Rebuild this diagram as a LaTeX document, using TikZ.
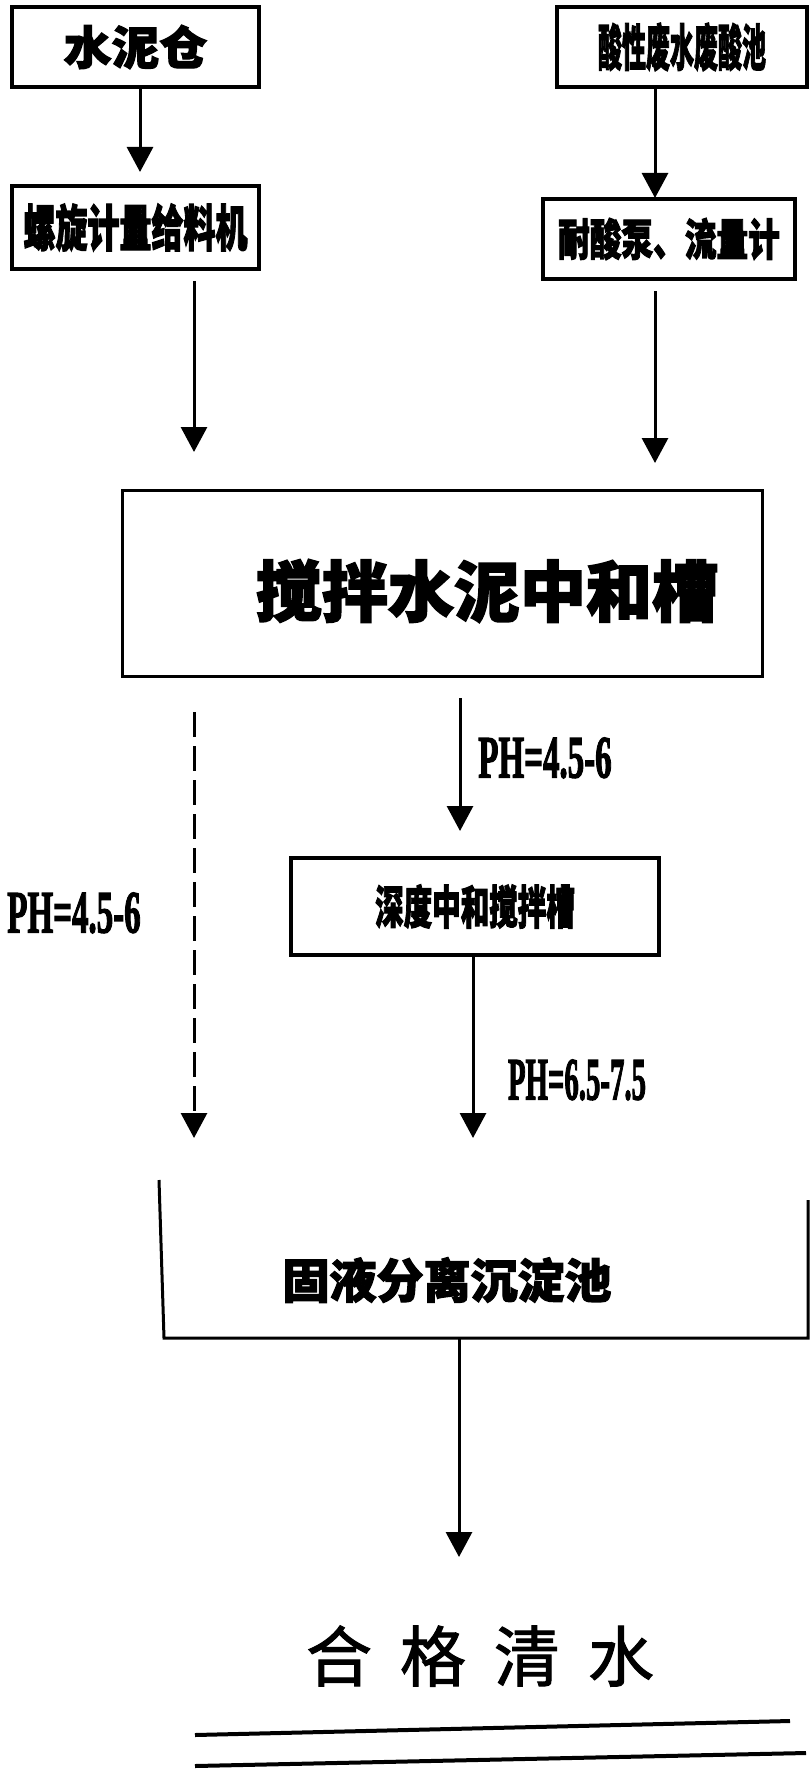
\documentclass[tikz,border=0pt]{standalone}
\usepackage{fontspec}
\setmainfont{Liberation Serif}
\newfontfamily\cjk{Noto Sans CJK SC}
\usetikzlibrary{arrows.meta}
\newcommand{\cj}[3]{{\cjk\bfseries\addfontfeatures{FakeBold=2.5}\fontsize{#1}{#1}\selectfont\scalebox{#2}[1]{#3}}}
\newcommand{\phl}[2]{{\bfseries\addfontfeatures{FakeBold=2.5}\fontsize{60}{60}\selectfont\scalebox{#1}[1]{#2}}}
\begin{document}
\begin{tikzpicture}[x=1pt,y=-1pt,
  box/.style={draw,line width=4pt,inner sep=0pt,rectangle},
  arr/.style={line width=3pt,-{Triangle[width=26pt,length=25pt]}},
  dasharr/.style={line width=3pt,dash pattern=on 25pt off 9pt,-{Triangle[width=26pt,length=25pt]}},
  plain/.style={inner sep=0pt}]
\useasboundingbox (0,0) rectangle (810,1779);
\fill[white] (0,0) rectangle (810,1779);
% boxes
\node[box,minimum width=247pt,minimum height=80pt] (cement) at (135.5,47) {\cj{46}{1.04}{水泥仓}};
\node[box,minimum width=247pt,minimum height=83pt] (screw) at (135.5,227.5) {\cj{50}{0.64}{螺旋计量给料机}};
\node[box,minimum width=250pt,minimum height=80pt] (acid) at (682,47) {\cj{50}{0.48}{酸性废水废酸池}};
\node[box,minimum width=252pt,minimum height=80pt] (pump) at (669,239) {\cj{44}{0.72}{耐酸泵、流量计}};
\node[box,line width=3pt,minimum width=640pt,minimum height=186pt] (mix) at (442,583) {};
\node[plain] (mixtext) at (487,591) {\cj{66}{1}{搅拌水泥中和槽}};
\node[box,line width=3.3pt,minimum width=368pt,minimum height=97pt] (deep) at (475,906.5) {\cj{46}{0.62}{深度中和搅拌槽}};
% open settling tank
\coordinate (tl) at (159,1180);
\coordinate (bl) at (164,1338);
\coordinate (br) at (808,1338);
\coordinate (tr) at (808,1200);
\draw[line width=3pt] (tl) -- (bl) -- (br) -- (tr);
\node[plain] (sinktext) at (447,1280) {\cj{47}{1}{固液分离沉淀池}};
% arrows
\coordinate (t1) at (140,172);
\draw[arr] (cement.south -| t1) -- (t1);
\coordinate (t2) at (655,198);
\draw[arr] (acid.south -| t2) -- (t2);
\coordinate (s3) at (194,281);
\coordinate (t3) at (194,452);
\draw[arr] (s3) -- (t3);
\coordinate (s4) at (655,291);
\coordinate (t4) at (655,463);
\draw[arr] (s4) -- (t4);
\coordinate (s5) at (460,698);
\coordinate (t5) at (460,831);
\draw[arr] (s5) -- (t5);
\coordinate (s6) at (194,712);
\coordinate (t6) at (194,1138);
\draw[dasharr] (s6) -- (t6);
\coordinate (t7) at (473,1138);
\draw[arr] (deep.south -| t7) -- (t7);
\coordinate (s8) at (459,1338);
\coordinate (t8) at (459,1557);
\draw[arr] (s8) -- (t8);
% labels
\node[plain] (ph1) at (545,758) {\phl{0.55}{PH=4.5-6}};
\node[plain] (ph2) at (74,913) {\phl{0.55}{PH=4.5-6}};
\node[plain] (ph3) at (577,1080) {\phl{0.48}{PH=6.5-7.5}};
% final
\node[plain] (water) at (480,1656) {\cjk\addfontfeatures{FakeBold=1.5}\fontsize{66}{66}\selectfont 合\hspace{28pt}格\hspace{28pt}清\hspace{28pt}水};
\coordinate (l1a) at (195,1735);
\coordinate (l1b) at (790,1721);
\coordinate (l2a) at (195,1766);
\coordinate (l2b) at (806,1753);
\draw[line width=4pt] (l1a) -- (l1b);
\draw[line width=4pt] (l2a) -- (l2b);
\end{tikzpicture}
\end{document}
